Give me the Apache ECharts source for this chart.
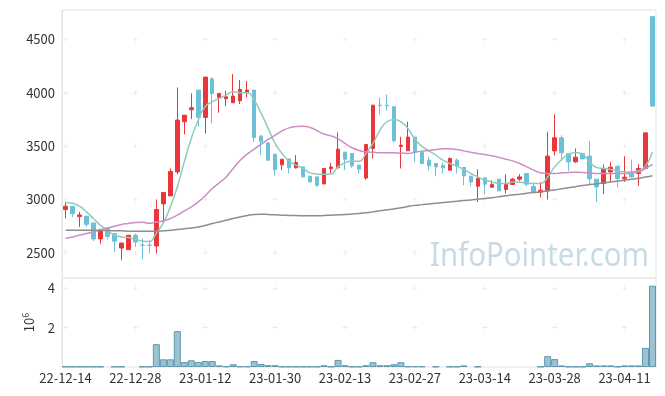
<!DOCTYPE html>
<html>
<head>
<meta charset="utf-8">
<script src="https://cdn.jsdelivr.net/npm/echarts@6/dist/echarts.min.js"></script>
<style>
html,body{margin:0;padding:0;background:#fff;}
#chart{width:665px;height:396px;}
</style>
</head>
<body>
<div id="chart"></div>
<script>
const dates = ['22-12-14','22-12-15','22-12-16','22-12-19','22-12-20','22-12-21','22-12-22','22-12-23','22-12-26','22-12-27',
'22-12-28','22-12-29','23-01-02','23-01-03','23-01-04','23-01-05','23-01-06','23-01-09','23-01-10','23-01-11',
'23-01-12','23-01-13','23-01-16','23-01-17','23-01-18','23-01-19','23-01-20','23-01-25','23-01-26','23-01-27',
'23-01-30','23-01-31','23-02-01','23-02-02','23-02-03','23-02-06','23-02-07','23-02-08','23-02-09','23-02-10',
'23-02-13','23-02-14','23-02-15','23-02-16','23-02-17','23-02-20','23-02-21','23-02-22','23-02-23','23-02-24',
'23-02-27','23-02-28','23-03-02','23-03-03','23-03-06','23-03-07','23-03-08','23-03-09','23-03-10','23-03-13',
'23-03-14','23-03-15','23-03-16','23-03-17','23-03-20','23-03-21','23-03-22','23-03-23','23-03-24','23-03-27',
'23-03-28','23-03-29','23-03-30','23-03-31','23-04-03','23-04-04','23-04-05','23-04-06','23-04-07','23-04-10',
'23-04-11','23-04-12','23-04-13','23-04-14','23-04-17'];

const opens = [2906,2937,2840,2843,2780,2630,2728,2681,2545,2530,
2665,2572,2572,2565,2959,3034,3259,3729,3841,4026,
3770,4131,3954,3945,3907,3926,4001,4026,3594,3531,
3425,3325,3381,3297,3306,3219,3212,3146,3288,3297,
3444,3432,3322,3201,3479,3885,3885,3870,3498,3457,
3585,3441,3369,3338,3319,3275,3369,3300,3219,3125,
3203,3115,3191,3094,3141,3191,3244,3122,3069,3081,
3456,3579,3432,3353,3432,3407,3191,3150,3259,3313,
3194,3244,3244,3291,4715];
const closes = [2937,2869,2855,2767,2630,2705,2655,2609,2592,2665,
2602,2570,2570,2906,3066,3263,3745,3791,3860,3770,
4148,3993,3995,3963,3970,4033,4026,3582,3541,3369,
3282,3378,3297,3347,3212,3165,3134,3291,3306,3472,
3378,3316,3284,3516,3885,3879,3879,3550,3510,3585,
3441,3338,3316,3306,3297,3385,3313,3222,3165,3197,
3144,3141,3081,3141,3191,3212,3144,3071,3087,3407,
3579,3438,3353,3397,3381,3194,3118,3291,3303,3197,
3209,3212,3291,3625,3876];
const lows = [2822,2837,2743,2743,2611,2587,2624,2508,2430,2530,
2555,2440,2493,2493,2790,3034,3238,3610,3754,3682,
3620,3714,3813,3876,3907,3895,3958,3541,3416,3360,
3222,3275,3244,3291,3212,3165,3118,3146,3244,3297,
3275,3297,3244,3185,3385,3798,3835,3535,3291,3457,
3353,3330,3275,3219,3244,3275,3244,3134,3125,2977,
3050,3115,3081,3056,3141,3175,3122,3071,3019,3000,
3413,3363,3269,3344,3381,3144,2977,3050,3165,3113,
3165,3206,3128,3291,3876];
const highs = [2972,2940,2884,2846,2780,2705,2743,2681,2592,2665,
2681,2634,2618,3000,3066,3291,4051,3791,3995,4026,
4148,4148,3995,4020,4176,4120,4111,4026,3604,3531,
3425,3378,3381,3416,3310,3219,3212,3291,3344,3629,
3444,3432,3322,3516,3885,3954,3985,3870,3588,3729,
3585,3441,3400,3338,3344,3394,3385,3300,3219,3282,
3203,3181,3191,3235,3203,3238,3244,3160,3165,3635,
3798,3601,3432,3479,3432,3550,3191,3329,3353,3313,
3407,3375,3331,3625,4715];

const ma5 = [2972,2965,2937,2884,2822,2759,2712,2665,2649,2643,
2624,2611,2606,2686,2780,2931,3118,3353,3573,3745,
3873,3916,3948,3979,4010,4001,4001,3932,3807,3667,
3526,3432,3360,3322,3291,3250,3240,3237,3240,3306,
3345,3358,3358,3432,3526,3651,3729,3751,3729,3667,
3565,3500,3456,3416,3369,3338,3313,3282,3244,3212,
3181,3165,3150,3150,3165,3162,3156,3150,3150,3212,
3306,3375,3425,3441,3425,3353,3300,3291,3282,3269,
3259,3259,3269,3313,3447];
const ma20 = [2637,2649,2665,2681,2699,2718,2733,2749,2765,2775,
2784,2787,2777,2790,2799,2822,2853,2893,2931,2977,
3035,3103,3156,3212,3291,3369,3425,3472,3519,3563,
3604,3644,3672,3685,3688,3676,3645,3615,3597,3568,
3526,3485,3460,3447,3442,3438,3438,3438,3435,3432,
3444,3453,3460,3469,3475,3475,3469,3456,3444,3432,
3423,3410,3395,3378,3362,3338,3306,3275,3250,3244,
3244,3250,3253,3256,3253,3250,3244,3244,3244,3244,
3244,3250,3259,3291,3329];
const ma60 = [2712,2712,2712,2712,2712,2709,2709,2706,2706,2703,
2703,2703,2703,2703,2706,2712,2718,2725,2733,2743,
2757,2775,2790,2806,2822,2837,2850,2859,2862,2859,
2856,2853,2850,2850,2847,2847,2847,2850,2853,2856,
2859,2865,2869,2875,2884,2894,2903,2912,2922,2934,
2945,2952,2959,2965,2971,2977,2984,2990,2996,3003,
3009,3016,3025,3035,3044,3050,3058,3065,3071,3080,
3090,3100,3110,3120,3132,3140,3148,3156,3165,3173,
3181,3191,3200,3210,3222];

const volumes = [20000,20000,20000,20000,20000,20000,null,20000,20000,null,
null,20000,20000,1160000,390000,390000,1820000,250000,340000,250000,
300000,300000,80000,30000,140000,30000,30000,300000,150000,90000,
90000,20000,20000,20000,20000,20000,20000,90000,20000,360000,
90000,20000,20000,90000,240000,90000,90000,140000,240000,30000,
30000,30000,null,20000,null,20000,20000,80000,null,20000,
null,null,null,null,null,null,null,null,20000,550000,
400000,80000,20000,20000,20000,190000,80000,80000,80000,20000,
80000,80000,80000,970000,4130000];

const priceTicks = [2500,3000,3500,4000,4500];
const volumeTicks = [2000000,4000000];
const xTickIdx = [0,10,20,30,40,50,60,70,80];

const kData = dates.map((d,i)=>[opens[i],closes[i],lows[i],highs[i]]);
const crossMain = [];
xTickIdx.forEach(ix=>priceTicks.forEach(v=>crossMain.push([ix,v])));
const crossVol = [];
xTickIdx.forEach(ix=>volumeTicks.forEach(v=>crossVol.push([ix,v])));

const UP = '#e8363b', DOWN = '#6cc0d7';
const FONT = 'Noto Sans CJK KR';
const plus = 'path://M4,0h1v9h-1zM0,4h9v1h-9z';

const chart = echarts.init(document.getElementById('chart'), null, {renderer:'canvas'});
chart.setOption({
  animation:false,
  backgroundColor:'#fff',
  textStyle:{fontFamily:FONT},
  grid:[
    {left:62, right:9, top:10, height:268, show:true, borderColor:'#e4e4e4', borderWidth:1},
    {left:62, right:9, top:278, height:89, show:true, borderColor:'#e4e4e4', borderWidth:1}
  ],
  xAxis:[
    {type:'category', gridIndex:0, data:dates, boundaryGap:true,
     axisLine:{show:false}, axisTick:{show:false}, axisLabel:{show:false}, splitLine:{show:false}},
    {type:'category', gridIndex:1, data:dates, boundaryGap:true,
     axisLine:{show:false}, axisTick:{show:false}, splitLine:{show:false},
     axisLabel:{interval:9, color:'#333', fontSize:13, margin:5, fontFamily:FONT}}
  ],
  yAxis:[
    {type:'value', gridIndex:0, min:2264, max:4777,
     axisLine:{show:true, lineStyle:{color:'#e4e4e4'}}, axisTick:{show:false}, splitLine:{show:false},
     axisLabel:{customValues:priceTicks, color:'#333', fontSize:13, margin:7, fontFamily:FONT,
       formatter:v=>String(v)}},
    {type:'value', gridIndex:1, min:0, max:4520000,
     axisLine:{show:true, lineStyle:{color:'#e4e4e4'}}, axisTick:{show:false}, splitLine:{show:false},
     axisLabel:{customValues:volumeTicks, color:'#333', fontSize:13, margin:7, fontFamily:FONT,
       formatter:v=>String(v/1000000)},
     name:'{a|10}{b|6}', nameLocation:'middle', nameRotate:90, nameGap:24,
     nameTextStyle:{color:'#333', rich:{a:{fontSize:13, fontFamily:FONT, color:'#333'}, b:{fontSize:9, fontFamily:FONT, color:'#333', padding:[0,0,8,0]}}}}
  ],
  series:[
    {type:'scatter', xAxisIndex:0, yAxisIndex:0, data:crossMain, symbol:plus, symbolSize:5, silent:true,
     itemStyle:{color:'#d9d9d9'}, z:1},
    {type:'scatter', xAxisIndex:1, yAxisIndex:1, data:crossVol, symbol:plus, symbolSize:5, silent:true,
     itemStyle:{color:'#d9d9d9'}, z:1},
    {type:'candlestick', xAxisIndex:0, yAxisIndex:0, data:kData, barWidth:4,
     itemStyle:{color:UP, color0:DOWN, borderColor:UP, borderColor0:DOWN, borderWidth:1}, z:3},
    {type:'line', xAxisIndex:0, yAxisIndex:0, data:ma5, smooth:true, showSymbol:false,
     lineStyle:{color:'#8fcbbd', width:1.5}, z:4},
    {type:'line', xAxisIndex:0, yAxisIndex:0, data:ma20, smooth:true, showSymbol:false,
     lineStyle:{color:'#cc8ec4', width:1.5}, z:4},
    {type:'line', xAxisIndex:0, yAxisIndex:0, data:ma60, smooth:true, showSymbol:false,
     lineStyle:{color:'#8e8e8e', width:1.5}, z:4},
    {type:'bar', xAxisIndex:1, yAxisIndex:1, data:volumes, barWidth:'100%',
     itemStyle:{color:'#9dc3d3', borderColor:'#5f96ae', borderWidth:1}, z:3}
  ],
  graphic:[
    {type:'text', x:430, y:240, scaleX:0.89, z:0, silent:true,
     style:{text:'InfoPointer.com', fontSize:33, fontFamily:'Noto Sans', fill:'#c7dbe6'}}
  ]
});
</script>
</body>
</html>
